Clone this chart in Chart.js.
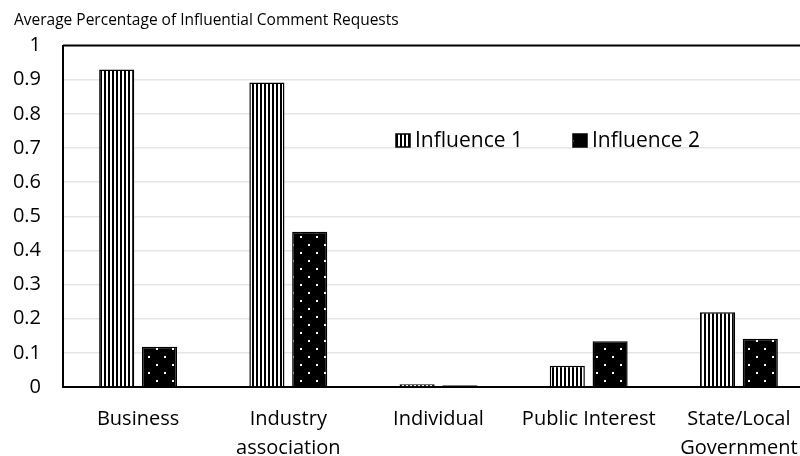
<!DOCTYPE html>
<html>
<head>
<meta charset="utf-8">
<script src="https://cdn.jsdelivr.net/npm/chart.js@4.4.1/dist/chart.umd.min.js"></script>
<style>
html,body{margin:0;padding:0;background:#fff;overflow:hidden;}
#wrap{width:816px;height:456px;position:relative;}
</style>
</head>
<body>
<div id="wrap"><canvas id="c" width="816" height="456"></canvas></div>
<script>
const titleText = "Average Percentage of Influential Comment Requests";
const categories = [["Business"], ["Industry", "association"], ["Individual"], ["Public Interest"], ["State/Local", "Government"]];
const seriesNames = ["Influence 1", "Influence 2"];
const influence1 = [0.93, 0.892, 0.008, 0.062, 0.219];
const influence2 = [0.118, 0.455, 0.005, 0.134, 0.141];
const yMin = 0, yMax = 1, yStep = 0.1;

const FONT = "'Open Sans', 'DejaVu Sans', sans-serif";

function stripePattern() {
  const cv = document.createElement('canvas');
  cv.width = 4; cv.height = 4;
  const g = cv.getContext('2d');
  g.fillStyle = '#fff'; g.fillRect(0, 0, 4, 4);
  g.fillStyle = '#000'; g.fillRect(0, 0, 2, 4);
  return g.createPattern(cv, 'repeat');
}
function dotPattern() {
  const cv = document.createElement('canvas');
  cv.width = 16; cv.height = 16;
  const g = cv.getContext('2d');
  g.fillStyle = '#000'; g.fillRect(0, 0, 16, 16);
  g.fillStyle = '#fff';
  g.fillRect(4, 4, 2, 2);
  g.fillRect(12, 12, 2, 2);
  return g.createPattern(cv, 'repeat');
}
const pStripe = stripePattern();
const pDots = dotPattern();

const frame = {
  id: 'frame',
  afterDraw(chart) {
    const {ctx, chartArea: a} = chart;
    ctx.save();
    ctx.strokeStyle = '#000';
    ctx.lineWidth = 2;
    ctx.beginPath();
    ctx.moveTo(a.left, a.top);
    ctx.lineTo(a.right, a.top);
    ctx.stroke();
    // legend
    const items = chart.data.datasets.map(d => ({label: d.label, fill: d.backgroundColor}));
    const pos = [[396, 134], [573, 134]];
    ctx.font = "21px " + FONT;
    ctx.textBaseline = 'middle';
    items.forEach((it, i) => {
      const [x, y] = pos[i];
      ctx.fillStyle = it.fill;
      ctx.fillRect(x, y, 14, 13);
      ctx.lineWidth = 1.5;
      ctx.strokeStyle = '#000';
      ctx.strokeRect(x, y, 14, 13);
      ctx.fillStyle = '#000';
      ctx.fillText(it.label, x + 19, y + 7);
    });
    ctx.restore();
  }
};

new Chart(document.getElementById('c'), {
  type: 'bar',
  data: {
    labels: categories,
    datasets: [
      {label: seriesNames[0], data: influence1, backgroundColor: pStripe, borderColor: '#000', borderWidth: 1.5},
      {label: seriesNames[1], data: influence2, backgroundColor: pDots, borderColor: '#000', borderWidth: 1.5}
    ]
  },
  options: {
    responsive: false,
    animation: false,
    devicePixelRatio: 1,
    layout: {padding: {left: 14, right: 2, top: 0, bottom: 0}},
    categoryPercentage: 0.57,
    barPercentage: 0.82,
    plugins: {
      legend: {display: false},
      tooltip: {enabled: false},
      title: {
        display: true, text: titleText, align: 'start', color: '#000',
        font: {family: FONT, size: 15.5, weight: 'normal', lineHeight: 1.2},
        padding: {top: 11, bottom: 16}
      }
    },
    scales: {
      x: {
        grid: {display: false},
        border: {display: true, color: '#000', width: 2},
        ticks: {color: '#000', font: {family: FONT, size: 20, lineHeight: 1.45}, maxRotation: 0, autoSkip: false, padding: 10},
        afterFit(s) { s.height = 69; }
      },
      y: {
        min: yMin, max: yMax,
        grid: {color: '#e6e6e6', lineWidth: 1.5, drawTicks: false},
        border: {display: true, color: '#000', width: 2},
        ticks: {stepSize: yStep, color: '#000', font: {family: FONT, size: 20}, padding: 22,
          callback: v => String(Math.round(v * 10) / 10)},
        afterFit(s) { s.width = 49; }
      }
    }
  },
  plugins: [frame]
});
</script>
</body>
</html>
